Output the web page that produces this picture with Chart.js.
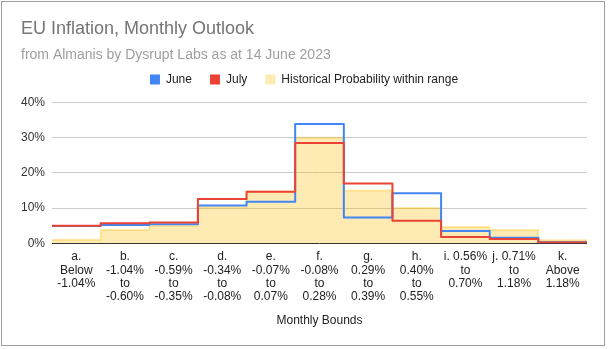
<!DOCTYPE html>
<html>
<head>
<meta charset="utf-8">
<script src="https://cdn.jsdelivr.net/npm/chart.js@4"></script>
<style>
  html, body { margin: 0; padding: 0; background: #ffffff; }
  #wrap { position: relative; width: 608px; height: 349px; }
</style>
</head>
<body>
<div id="wrap"><canvas id="c" width="608" height="349"></canvas></div>
<script>
// ---- Data ----
const categories = [
  ["a.", "Below", "-1.04%"],
  ["b.", "-1.04%", "to", "-0.60%"],
  ["c.", "-0.59%", "to", "-0.35%"],
  ["d.", "-0.34%", "to", "-0.08%"],
  ["e.", "-0.07%", "to", "0.07%"],
  ["f.", "-0.08%", "to", "0.28%"],
  ["g.", "0.29%", "to", "0.39%"],
  ["h.", "0.40%", "to", "0.55%"],
  ["i. 0.56%", "to", "0.70%"],
  ["j. 0.71%", "to", "1.18%"],
  ["k.", "Above", "1.18%"]
];
const juneValues = [4.9, 5.2, 5.4, 10.7, 11.8, 33.9, 7.3, 14.2, 3.5, 1.6, 0.3];
const julyValues = [5.0, 5.7, 5.9, 12.6, 14.6, 28.5, 17.0, 6.4, 1.8, 1.2, 0.2];
const historicalValues = [1.0, 3.8, 5.0, 10.2, 14.7, 30.0, 15.0, 10.0, 4.6, 3.8, 0.9];
const yTicks = [0, 10, 20, 30, 40];

// Each category occupies one band [i, i+1]; stepped lines hold the value across the band.
function toSteps(values) {
  const pts = values.map((v, i) => ({ x: i, y: v }));
  pts.push({ x: values.length, y: values[values.length - 1] });
  return pts;
}

Chart.defaults.font.family = "'Liberation Sans', Arial, sans-serif";
Chart.defaults.color = '#222222';

const LEGEND_SHIFT = 7;
const framePlugin = {
  id: 'frame',
  afterLayout(chart) {
    const lg = chart.legend;
    if (lg) { lg.top -= LEGEND_SHIFT; lg.bottom -= LEGEND_SHIFT; }
  },
  afterDraw(chart) {
    const ctx = chart.ctx;
    ctx.save();
    ctx.strokeStyle = '#9e9e9e';
    ctx.lineWidth = 1;
    ctx.strokeRect(1.5, 1.5, 603, 344);
    ctx.restore();
  }
};

new Chart(document.getElementById('c'), {
  type: 'line',
  data: {
    datasets: [
      {
        label: 'June',
        data: toSteps(juneValues),
        borderColor: '#4285f4',
        backgroundColor: '#4285f4',
        borderWidth: 2,
        stepped: 'before',
        fill: false,
        pointRadius: 0,
        borderJoinStyle: 'round',
        order: 1
      },
      {
        label: 'July',
        data: toSteps(julyValues),
        borderColor: '#ea4335',
        backgroundColor: '#ea4335',
        borderWidth: 2,
        stepped: 'before',
        fill: false,
        pointRadius: 0,
        borderJoinStyle: 'round',
        order: 0
      },
      {
        label: 'Historical Probability within range',
        data: toSteps(historicalValues),
        borderColor: 'rgba(251,188,4,0.3)',
        backgroundColor: 'rgba(251,188,4,0.3)',
        borderWidth: 2,
        stepped: 'before',
        fill: 'origin',
        pointRadius: 0,
        borderJoinStyle: 'round',
        order: 2
      }
    ]
  },
  options: {
    responsive: false,
    animation: false,
    events: [],
    layout: { padding: { left: 21, right: 21, top: 0, bottom: 21 } },
    plugins: {
      title: {
        display: true,
        text: 'EU Inflation, Monthly Outlook',
        align: 'start',
        color: '#757575',
        font: { size: 18, weight: 'normal', lineHeight: 1.2 },
        padding: { top: 18, bottom: 0 }
      },
      subtitle: {
        display: true,
        text: 'from Almanis by Dysrupt Labs as at 14 June 2023',
        align: 'start',
        color: '#9e9e9e',
        font: { size: 14, weight: 'normal', lineHeight: 1.2 },
        padding: { top: 7, bottom: -1 }
      },
      legend: {
        display: true,
        position: 'top',
        align: 'center',
        labels: {
          boxWidth: 10,
          boxHeight: 10,
          padding: 18,
          color: '#222222',
          font: { size: 12 },
          sort: (a, b) => a.datasetIndex - b.datasetIndex,
          generateLabels(chart) {
            const items = Chart.defaults.plugins.legend.labels.generateLabels(chart);
            return items.map(it => {
              const ds = chart.data.datasets[it.datasetIndex];
              it.fillStyle = ds.backgroundColor;
              it.strokeStyle = 'rgba(0,0,0,0)';
              it.lineWidth = 0;
              return it;
            });
          }
        }
      },
      tooltip: { enabled: false }
    },
    scales: {
      x: {
        type: 'linear',
        min: 0,
        max: categories.length,
        grid: { display: false, drawTicks: false },
        border: { display: false },
        afterBuildTicks(axis) {
          axis.ticks = categories.map((c, i) => ({ value: i + 0.5 }));
        },
        afterFit(axis) {
          axis.height = 84.7;
        },
        ticks: {
          autoSkip: false,
          maxRotation: 0,
          minRotation: 0,
          padding: 7,
          color: '#222222',
          font: { size: 12, lineHeight: 1.11 },
          callback: (v) => categories[Math.floor(v)]
        },
        title: {
          display: true,
          text: 'Monthly Bounds',
          color: '#222222',
          font: { size: 12, lineHeight: 1.2 },
          padding: { top: 10, bottom: 0 }
        }
      },
      y: {
        min: 0,
        max: 40,
        afterBuildTicks(axis) {
          axis.ticks = yTicks.map(v => ({ value: v }));
        },
        afterFit(axis) {
          axis.width = 31;
        },
        grid: {
          drawTicks: false,
          color: (ctx) => (ctx.tick && ctx.tick.value === 0 ? '#333333' : '#cccccc'),
          lineWidth: 1
        },
        border: { display: false },
        ticks: {
          padding: 7,
          color: '#333333',
          font: { size: 12 },
          callback: (v) => v + '%'
        }
      }
    }
  },
  plugins: [framePlugin]
});
</script>
</body>
</html>
